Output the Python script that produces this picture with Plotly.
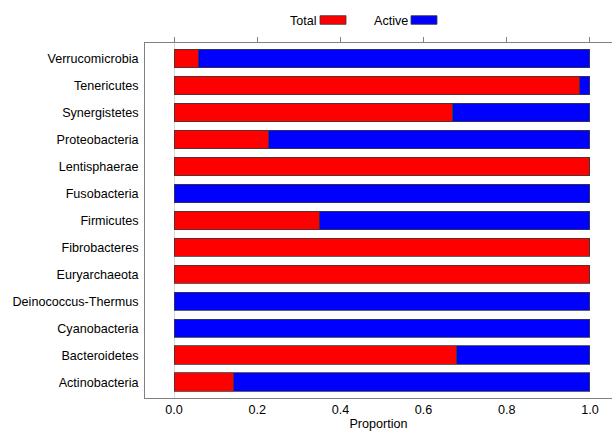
import plotly.graph_objects as go

categories = ["Actinobacteria", "Bacteroidetes", "Cyanobacteria", "Deinococcus-Thermus",
              "Euryarchaeota", "Fibrobacteres", "Firmicutes", "Fusobacteria",
              "Lentisphaerae", "Proteobacteria", "Synergistetes", "Tenericutes",
              "Verrucomicrobia"]
total = [0.144, 0.680, 0.0, 0.0, 1.0, 1.0, 0.349, 0.0, 1.0, 0.228, 0.670, 0.976, 0.058]
active = [0.856, 0.320, 1.0, 1.0, 0.0, 0.0, 0.651, 1.0, 0.0, 0.772, 0.330, 0.024, 0.942]
x_ticks = [0.0, 0.2, 0.4, 0.6, 0.8, 1.0]
x_tick_labels = ["0.0", "0.2", "0.4", "0.6", "0.8", "1.0"]

FONT = "Liberation Sans, Arial, sans-serif"
FS = 12.6
W, H = 612, 432
L, R, T, B = 145, 0, 43, 34
XR = [-0.07, 1.053]

fig = go.Figure()
fig.add_trace(go.Bar(y=categories, x=total, orientation="h", name="Total",
                     marker=dict(color="#FF0000", line=dict(color="#3a3a3a", width=0.8)),
                     showlegend=False))
fig.add_trace(go.Bar(y=categories, x=active, orientation="h", name="Active",
                     marker=dict(color="#0000FF", line=dict(color="#3a3a3a", width=0.8)),
                     showlegend=False))
# empty helper trace so the top (tick-only) axis is rendered
fig.add_trace(go.Scatter(x=[None], y=[None], xaxis="x2", yaxis="y", mode="markers",
                         showlegend=False, hoverinfo="skip"))

def px_x(p):
    return (p - L) / (W - L - R)

def px_y(p):
    return (H - B - p) / (H - T - B)

shapes = []
annotations = []
# legend (text followed by a box)
for label, color, text_right, box_left in [("Total", "#FF0000", 319, 320), ("Active", "#0000FF", 410, 411)]:
    annotations.append(dict(text=label, xref="paper", yref="paper", x=px_x(text_right), y=px_y(20.5),
                            xanchor="right", yanchor="middle", showarrow=False,
                            font=dict(family=FONT, size=FS, color="black")))
    shapes.append(dict(type="rect", xref="paper", yref="paper",
                       x0=px_x(box_left), x1=px_x(box_left + 26), y0=px_y(24.3), y1=px_y(15.7),
                       fillcolor=color, line=dict(color="#3a3a3a", width=0.8)))

fig.update_layout(
    width=W, height=H,
    margin=dict(l=L, r=R, t=T, b=B, pad=0),
    paper_bgcolor="white", plot_bgcolor="white",
    barmode="stack", bargap=0.32,
    font=dict(family=FONT, size=FS, color="black"),
    shapes=shapes, annotations=annotations,
    xaxis=dict(range=XR, tickvals=x_ticks, ticktext=x_tick_labels,
               showgrid=False, zeroline=True, zerolinecolor="#d8d8d8", zerolinewidth=1,
               showline=True, linecolor="#808080", linewidth=1, ticks="",
               tickfont=dict(family=FONT, size=FS, color="black"),
               title=dict(text="Proportion", standoff=3, font=dict(family=FONT, size=FS, color="black"))),
    xaxis2=dict(overlaying="x", side="top", range=XR, tickvals=x_ticks,
                showticklabels=False, ticks="outside", ticklen=5, tickcolor="#808080", tickwidth=1,
                showline=True, linecolor="#808080", linewidth=1, showgrid=False, zeroline=False),
    yaxis=dict(range=[-0.59, 12.58], showgrid=False, zeroline=False,
               showline=True, linecolor="#808080", linewidth=1, ticks="", ticklen=0,
               ticklabelstandoff=3,
               tickfont=dict(family=FONT, size=FS, color="black")),
)

fig.write_html("out.html")
